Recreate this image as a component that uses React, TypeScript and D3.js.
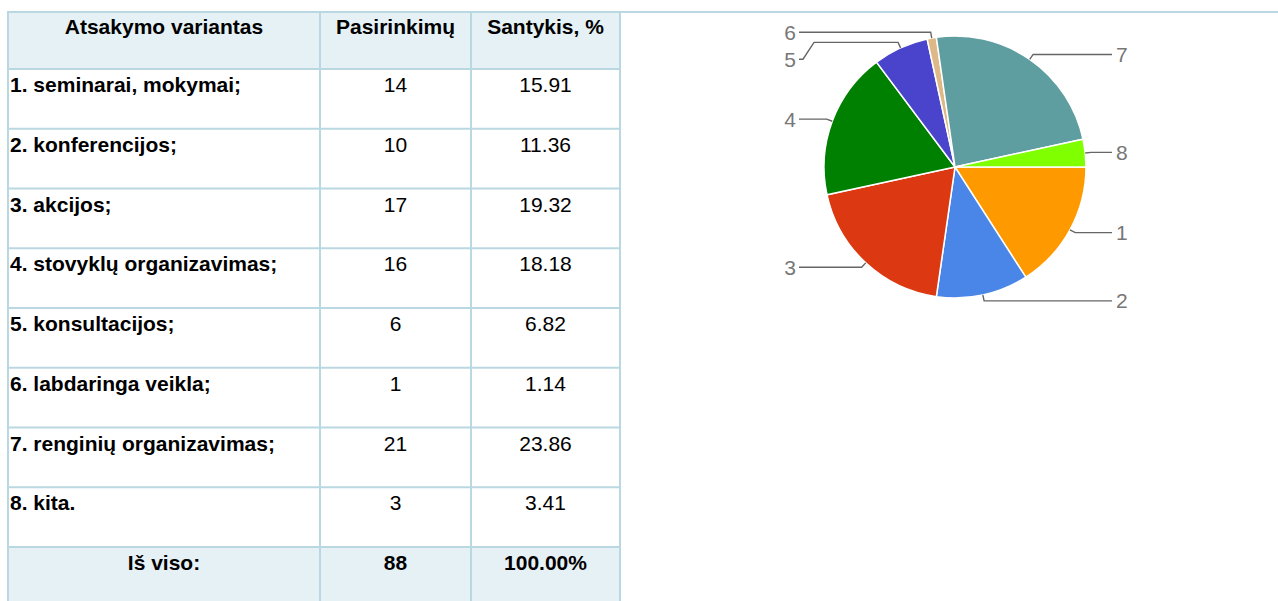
import React from 'react';
import * as d3 from 'd3';

// table + pie data
const answers = [
  '1. seminarai, mokymai;',
  '2. konferencijos;',
  '3. akcijos;',
  '4. stovyklų organizavimas;',
  '5. konsultacijos;',
  '6. labdaringa veikla;',
  '7. renginių organizavimas;',
  '8. kita.',
];
const counts = [14, 10, 17, 16, 6, 1, 21, 3];
const shares = [15.91, 11.36, 19.32, 18.18, 6.82, 1.14, 23.86, 3.41];
const sliceLabels = ['1', '2', '3', '4', '5', '6', '7', '8'];
const sliceColors = ['#ff9900', '#4a86e8', '#dc3912', '#008000', '#4a44cc', '#deb887', '#5f9ea0', '#7fff00'];
const headers = ['Atsakymo variantas', 'Pasirinkimų', 'Santykis, %'];
const totalLabel = 'Iš viso:';
const totalCount = 88;
const totalShare = '100.00%';

const W = 1278;
const H = 601;
const FONT = 'Arial, "Liberation Sans", sans-serif';
const BORDER = '#b9d8e1';
const HEAD_BG = '#e6f1f6';

const colEdges = [8, 320, 471, 620];
const headTop = 12;
const headH = 57;
const rowH = 59.75;

const cx = 955;
const cy = 167;
const radius = 131;

interface PieLabel {
  i: number;
  side: number;
  edge: [number, number];
  elbow: [number, number];
  y: number;
}

const PieChart: React.FC = () => {
  const pie = d3.pie<number>().sort(null).value(d => d)
    .startAngle(Math.PI / 2).endAngle(Math.PI / 2 + 2 * Math.PI);
  const arcs = pie(counts);
  const arc = d3.arc<d3.PieArcDatum<number>>().innerRadius(0).outerRadius(radius);

  const labels: PieLabel[] = arcs.map((a, i) => {
    const mid = (a.startAngle + a.endAngle) / 2;
    const s = Math.sin(mid);
    const c = Math.cos(mid);
    return {
      i,
      side: s >= 0 ? 1 : -1,
      edge: [cx + radius * s, cy - radius * c],
      elbow: [cx + (radius + 6) * s, cy - (radius + 6) * c],
      y: cy - (radius + 6) * c,
    };
  });

  // push overlapping labels apart on each side
  const gap = 27;
  [-1, 1].forEach(side => {
    const group = labels.filter(l => l.side === side).sort((a, b) => a.y - b.y);
    for (let k = 1; k < group.length; k++) {
      if (group[k].y - group[k - 1].y < gap) group[k].y = group[k - 1].y + gap;
    }
  });

  const line = d3.line();
  const fs = 21;

  return (
    <g>
      {arcs.map((a, i) => (
        <path key={i} d={arc(a) || ''} transform={`translate(${cx},${cy})`}
          fill={sliceColors[i]} stroke="#fff" strokeWidth={1.5} />
      ))}
      {labels.map(l => {
        const endX = l.side > 0 ? cx + radius + 26 : cx - radius - 25;
        const textX = l.side > 0 ? endX + 4 : endX - 3;
        const pts: [number, number][] = [l.edge, l.elbow];
        if (Math.abs(l.y - l.elbow[1]) > 0.5) {
          pts.push([endX - l.side * 15, l.elbow[1]]);
          pts.push([endX - l.side * 4, l.y]);
        } else {
          pts.push([endX, l.elbow[1]]);
        }
        pts.push([endX, l.y]);
        return (
          <g key={l.i}>
            <path d={line(pts) || ''} fill="none" stroke="#666" strokeWidth={1.4} />
            <text x={textX} y={l.y + fs * 0.36} fontFamily={FONT} fontSize={fs} fill="#777"
              textAnchor={l.side > 0 ? 'start' : 'end'}>{sliceLabels[l.i]}</text>
          </g>
        );
      })}
    </g>
  );
};

const Table: React.FC = () => {
  const nRows = answers.length;
  const rowTop = (r: number) => headTop + headH + r * rowH;
  const totalTop = rowTop(nRows);
  const colMid = (c: number) => (colEdges[c] + colEdges[c + 1]) / 2;
  const fs = 21;
  const bodyRows = answers.map((a, r) => [a, String(counts[r]), shares[r].toFixed(2)]);

  return (
    <g fontFamily={FONT} fontSize={fs}>
      <rect x={colEdges[0]} y={headTop} width={colEdges[3] - colEdges[0]} height={headH} fill={HEAD_BG} />
      <rect x={colEdges[0]} y={totalTop} width={colEdges[3] - colEdges[0]} height={H - totalTop} fill={HEAD_BG} />

      {headers.map((h, c) => (
        <text key={h} x={colMid(c)} y={headTop + 22} textAnchor="middle" fontWeight="bold" fill="#000">{h}</text>
      ))}
      {bodyRows.map((row, r) => (
        <g key={r}>
          <text x={colEdges[0] + 2} y={rowTop(r) + 23} fontWeight="bold" fill="#000">{row[0]}</text>
          <text x={colMid(1)} y={rowTop(r) + 23} textAnchor="middle" fill="#000">{row[1]}</text>
          <text x={colMid(2)} y={rowTop(r) + 23} textAnchor="middle" fill="#000">{row[2]}</text>
        </g>
      ))}
      {[totalLabel, String(totalCount), totalShare].map((t, c) => (
        <text key={c} x={colMid(c)} y={totalTop + 23} textAnchor="middle" fontWeight="bold" fill="#000">{t}</text>
      ))}

      {/* grid lines */}
      <line x1={colEdges[0] - 1} x2={W} y1={headTop} y2={headTop} stroke={BORDER} strokeWidth={2} />
      {d3.range(nRows + 1).map(r => (
        <line key={r} x1={colEdges[0]} x2={colEdges[3]} y1={rowTop(r)} y2={rowTop(r)} stroke={BORDER} strokeWidth={2} />
      ))}
      {colEdges.map((x, c) => (
        <line key={c} x1={x} x2={x} y1={headTop} y2={H} stroke={BORDER} strokeWidth={2} />
      ))}
    </g>
  );
};

export default function App() {
  return (
    <svg width={W} height={H} style={{ position: 'absolute', left: 0, top: 0, background: '#fff' }}>
      <Table />
      <PieChart />
    </svg>
  );
}
